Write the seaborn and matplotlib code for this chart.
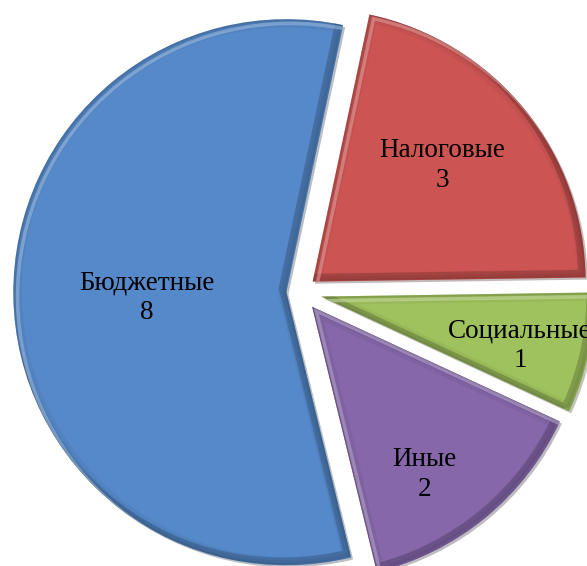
import numpy as np
import matplotlib
matplotlib.use('Agg')
import matplotlib.pyplot as plt
import matplotlib.patheffects as pe
import matplotlib.transforms as mtransforms
from matplotlib.patches import Wedge
import seaborn as sns

# данные
categories = ['Налоговые', 'Социальные', 'Иные', 'Бюджетные']
values = [3, 1, 2, 8]
colors = ['#CC5553', '#A0C25E', '#8567AA', '#5589C9']
explode = [0.06, 0.08, 0.07, 0.05]
label_r = [0.638, 0.75, 0.74, 0.51]
label_shift = [2.3, -2, -5.5, 1.5]

sns.set_theme(style='white')
plt.rcParams['font.family'] = ['Liberation Serif', 'DejaVu Serif']

fig = plt.figure(figsize=(5.87, 5.66), dpi=100)
ax = fig.add_axes([0, 0, 1, 1])

wedges, _ = ax.pie(values, colors=colors, explode=explode, startangle=78,
                   counterclock=False, radius=1.0,
                   wedgeprops=dict(linewidth=0))


def shifted(dx, dy):
    return ax.transData + mtransforms.ScaledTranslation(dx / 72, dy / 72, fig.dpi_scale_trans)


for w, c in zip(wedges, colors):
    rgb = np.array(matplotlib.colors.to_rgb(c))
    dark = tuple(rgb * 0.45)
    light = tuple(np.minimum(rgb + (1 - rgb) * 0.45, 1))
    w.set_path_effects([pe.SimplePatchShadow(offset=(1.5, -1.5), alpha=0.3), pe.Normal()])
    # затемнение по краю
    for lw, a in [(12, 0.08), (7, 0.10), (3, 0.16)]:
        p = Wedge(w.center, w.r, w.theta1, w.theta2, facecolor='none',
                  edgecolor=dark, linewidth=lw, alpha=a, joinstyle='miter')
        ax.add_patch(p)
        p.set_clip_path(w)
    # фаска: тень снизу-справа, блик сверху-слева
    p = Wedge(w.center, w.r, w.theta1, w.theta2, facecolor='none', edgecolor=dark,
              linewidth=5, alpha=0.3, transform=shifted(-3, 3))
    ax.add_patch(p)
    p.set_clip_path(w)
    p = Wedge(w.center, w.r, w.theta1, w.theta2, facecolor='none', edgecolor=light,
              linewidth=2.5, alpha=0.55, transform=shifted(3, -3))
    ax.add_patch(p)
    p.set_clip_path(w)

for w, name, v, r, s in zip(wedges, categories, values, label_r, label_shift):
    ang = np.deg2rad((w.theta1 + w.theta2) / 2 + s)
    x = w.center[0] + r * np.cos(ang)
    y = w.center[1] + r * np.sin(ang)
    ax.text(x, y, f'{name}\n{v}', ha='center', va='center', fontsize=19.5,
            color='black', linespacing=1.25)

k = 273
ax.set_xlim(-300 / k, 287 / k)
ax.set_ylim(-274 / k, 292 / k)
ax.axis('off')

fig.savefig('out.png', dpi=100)
